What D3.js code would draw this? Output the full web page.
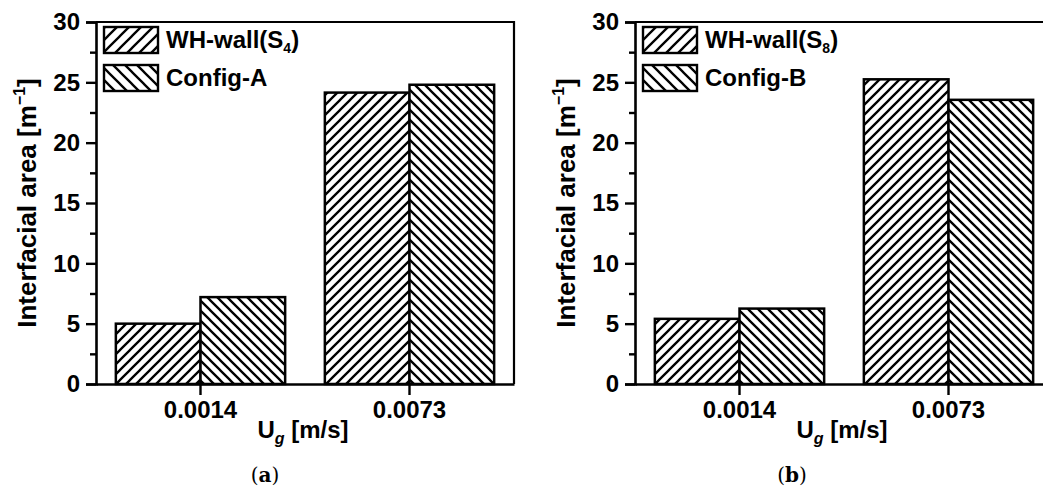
<!DOCTYPE html>
<html>
<head>
<meta charset="utf-8">
<script src="https://cdn.jsdelivr.net/npm/d3@7"></script>
<style>
  html, body { margin: 0; padding: 0; background: #fff; }
  svg { display: block; }
  text { font-family: Arial, "Liberation Sans", sans-serif; font-weight: bold; fill: #000; }
</style>
</head>
<body>
<svg id="fig" width="1043" height="490"></svg>
<script>
// Superficial gas velocity categories (m/s)
const categories = ["0.0014", "0.0073"];
// Panel (a): WH-wall(S4) vs Config-A
const whWallS4 = [5.0, 24.15];
const configA = [7.2, 24.8];
// Panel (b): WH-wall(S8) vs Config-B
const whWallS8 = [5.4, 25.25];
const configB = [6.25, 23.55];
// Y axis ticks
const yMajorTicks = [0, 5, 10, 15, 20, 25, 30];
const yMinorTicks = [2.5, 7.5, 12.5, 17.5, 22.5, 27.5];

const svg = d3.select("#fig");
const defs = svg.append("defs");

// Hatch fills: forward diagonal for WH-wall, backward diagonal for Config
function hatch(id, size, forward) {
  const p = defs.append("pattern")
    .attr("id", id)
    .attr("patternUnits", "userSpaceOnUse")
    .attr("width", size).attr("height", size);
  p.append("rect").attr("width", size).attr("height", size).attr("fill", "#fff");
  const s = size, h = size / 4;
  const d = forward
    ? `M0,${s} L${s},0 M${-h},${h} L${h},${-h} M${s - h},${s + h} L${s + h},${s - h}`
    : `M0,0 L${s},${s} M${-h},${s - h} L${h},${s + h} M${s - h},${-h} L${s + h},${h}`;
  p.append("path").attr("d", d).attr("stroke", "#000").attr("stroke-width", 2.3);
}
hatch("fwd", 10, true);
hatch("bwd", 10, false);
hatch("fwdL", 12, true);
hatch("bwdL", 12, false);

const fills = ["url(#fwd)", "url(#bwd)"];
const legendFills = ["url(#fwdL)", "url(#bwdL)"];

function drawPanel(offsetX, seriesA, seriesB, labelA, subA, labelB, captionLetter, captionX) {
  const g = svg.append("g").attr("transform", `translate(${offsetX},0)`);
  const left = 96, right = 514, top = 22, bottom = 384;

  const x = d3.scaleBand().domain(categories).range([left, right])
    .paddingInner(0.19).paddingOuter(0.095);
  const xs = d3.scaleBand().domain([0, 1]).range([0, x.bandwidth()]);
  const y = d3.scaleLinear().domain([0, 30]).range([bottom, top]);

  // Frame top and right
  g.append("path")
    .attr("d", `M${left},${y(30)} H${right} V${bottom}`)
    .attr("fill", "none").attr("stroke", "#000").attr("stroke-width", 2.2);

  // Bars
  const rows = categories.map((c, i) => [
    { cat: c, s: 0, v: seriesA[i] },
    { cat: c, s: 1, v: seriesB[i] }
  ]).flat();
  g.selectAll("rect.bar").data(rows).join("rect")
    .attr("class", "bar")
    .attr("x", d => x(d.cat) + xs(d.s))
    .attr("width", xs.bandwidth())
    .attr("y", d => y(d.v))
    .attr("height", d => y(0) - y(d.v))
    .attr("fill", d => fills[d.s])
    .attr("stroke", "#000").attr("stroke-width", 2.5);

  // Y axis: major ticks with labels, minor ticks without
  g.append("g").attr("transform", `translate(${left},0)`)
    .call(d3.axisLeft(y).tickValues(yMajorTicks).tickSize(10).tickPadding(6).tickFormat(d3.format("d")));
  g.append("g").attr("transform", `translate(${left},0)`)
    .call(d3.axisLeft(y).tickValues(yMinorTicks).tickSize(6).tickFormat(""))
    .call(a => a.select(".domain").remove());

  // X axis
  g.append("g").attr("transform", `translate(0,${bottom})`)
    .call(d3.axisBottom(x).tickSize(11).tickPadding(6).tickSizeOuter(0));

  g.selectAll(".domain").attr("stroke-width", 2.6);
  g.selectAll(".tick line").attr("stroke-width", 2.4);
  g.selectAll(".tick text")
    .style("font-family", "Arial, 'Liberation Sans', sans-serif")
    .style("font-weight", "bold")
    .style("font-size", "24px");

  // Legend
  const legend = g.append("g");
  const items = [
    { label: labelA, sub: subA, fill: legendFills[0] },
    { label: labelB, sub: null, fill: legendFills[1] }
  ];
  items.forEach((it, i) => {
    const yy = 27 + i * 38;
    legend.append("rect")
      .attr("x", 104).attr("y", yy).attr("width", 54).attr("height", 26)
      .attr("fill", it.fill).attr("stroke", "#000").attr("stroke-width", 2.4);
    const t = legend.append("text")
      .attr("x", 166).attr("y", yy + 21)
      .style("font-size", "24px");
    if (it.sub) {
      t.append("tspan").text(it.label + "(S");
      t.append("tspan").text(it.sub).attr("dy", 5).style("font-size", "14px");
      t.append("tspan").text(")").attr("dy", -5);
    } else {
      t.text(it.label);
    }
  });

  // Y title
  const yt = g.append("text")
    .attr("transform", `translate(36,${(top + bottom) / 2}) rotate(-90)`)
    .attr("text-anchor", "middle")
    .style("font-size", "26px");
  yt.append("tspan").text("Interfacial area [m");
  yt.append("tspan").text("\u22121").attr("dy", -11).style("font-size", "16px");
  yt.append("tspan").text("]").attr("dy", 11);

  // X title
  const xt = g.append("text")
    .attr("x", (left + right) / 2 - 2).attr("y", 438)
    .attr("text-anchor", "middle")
    .style("font-size", "24px");
  xt.append("tspan").text("U");
  xt.append("tspan").text("g").attr("dy", 6).style("font-size", "16px").style("font-style", "italic");
  xt.append("tspan").text(" [m/s]").attr("dy", -6);

  // Panel caption
  const cap = svg.append("text")
    .attr("x", captionX).attr("y", 482)
    .attr("text-anchor", "middle")
    .style("font-family", "'DejaVu Serif', 'Liberation Serif', serif")
    .style("font-weight", "normal")
    .style("font-size", "20px");
  cap.append("tspan").text("(");
  cap.append("tspan").text(captionLetter).style("font-weight", "bold");
  cap.append("tspan").text(")");
}

drawPanel(0, whWallS4, configA, "WH-wall", "4", "Config-A", "a", 265);
drawPanel(539, whWallS8, configB, "WH-wall", "8", "Config-B", "b", 792);
</script>
</body>
</html>
